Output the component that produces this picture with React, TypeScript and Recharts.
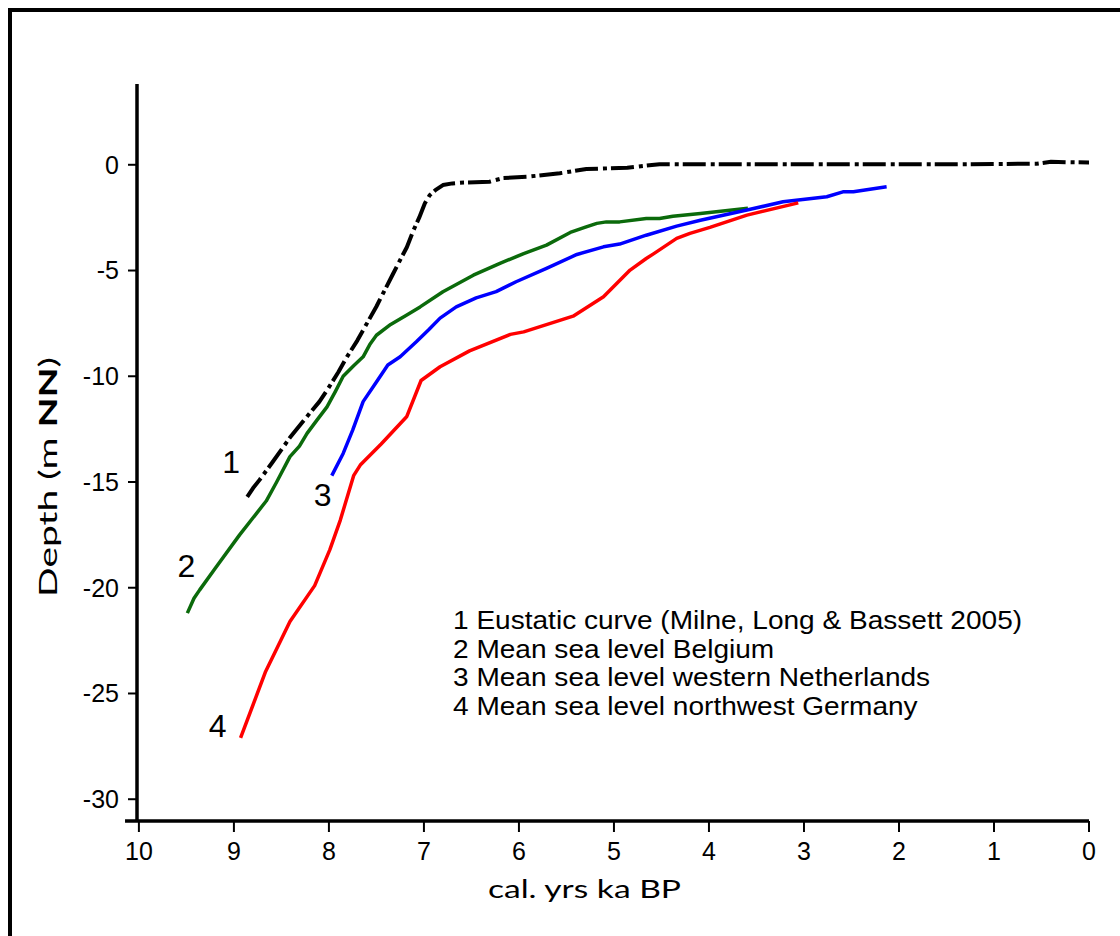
import React from 'react';
import { LineChart, Line, XAxis, YAxis, Legend, ReferenceLine } from 'recharts';

// ---- data ----
const xTicks = [0, 1, 2, 3, 4, 5, 6, 7, 8, 9, 10];
const yTicks = [-30, -25, -20, -15, -10, -5, 0];
const curveNumbers = ['1', '2', '3', '4'];
const seriesNames = [
  '1 Eustatic curve (Milne, Long & Bassett 2005)',
  '2 Mean sea level Belgium',
  '3 Mean sea level western Netherlands',
  '4 Mean sea level northwest Germany',
];

// [age ka BP, depth m NN]
const eustatic = [
  [8.86, -15.7], [8.8, -15.3], [8.73, -14.9], [8.6, -14.1], [8.41, -12.9], [8.23, -11.9],
  [8.1, -11.2], [8.02, -10.66], [7.9, -9.8], [7.81, -9.08], [7.7, -8.3], [7.6, -7.5],
  [7.5, -6.7], [7.43, -6.08], [7.33, -5.2], [7.25, -4.5], [7.18, -3.9], [7.11, -3.1],
  [7.05, -2.5], [6.99, -1.82], [6.94, -1.44], [6.88, -1.2], [6.8, -0.96], [6.7, -0.88],
  [6.62, -0.85], [6.31, -0.8], [6.17, -0.63], [5.92, -0.57], [5.57, -0.4], [5.29, -0.2],
  [4.86, -0.14], [4.52, 0.03], [3.0, 0.02], [1.5, 0.02], [0.55, 0.05], [0.4, 0.14],
  [0.2, 0.12], [0.0, 0.11],
];
const belgium = [
  [9.49, -21.2], [9.42, -20.5], [9.36, -20.1], [9.2, -19.1], [8.94, -17.5], [8.66, -15.9],
  [8.55, -15.0], [8.41, -13.8], [8.31, -13.3], [8.23, -12.7], [8.13, -12.1], [8.02, -11.45],
  [7.93, -10.7], [7.85, -10.0], [7.74, -9.5], [7.64, -9.08], [7.57, -8.5], [7.5, -8.06],
  [7.35, -7.55], [7.18, -7.1], [7.04, -6.72], [6.8, -6.0], [6.48, -5.22], [6.2, -4.66],
  [5.95, -4.2], [5.71, -3.8], [5.46, -3.2], [5.3, -2.95], [5.18, -2.77], [5.08, -2.7],
  [4.94, -2.7], [4.66, -2.54], [4.52, -2.54], [4.38, -2.43], [4.09, -2.3], [3.59, -2.06],
];
const netherlands = [
  [7.97, -14.7], [7.85, -13.65], [7.75, -12.55], [7.64, -11.2], [7.5, -10.27], [7.38, -9.47],
  [7.25, -9.08], [7.08, -8.37], [6.95, -7.8], [6.83, -7.25], [6.66, -6.72], [6.45, -6.29],
  [6.24, -6.0], [6.03, -5.53], [5.71, -4.9], [5.39, -4.24], [5.11, -3.88], [4.94, -3.75],
  [4.66, -3.33], [4.34, -2.9], [4.09, -2.62], [3.6, -2.14], [3.22, -1.75], [2.76, -1.51],
  [2.59, -1.28], [2.48, -1.28], [2.13, -1.04],
];
const germany = [
  [8.93, -27.1], [8.67, -24.0], [8.41, -21.6], [8.15, -19.9], [7.99, -18.2], [7.88, -16.8],
  [7.74, -14.7], [7.67, -14.2], [7.45, -13.2], [7.18, -11.9], [7.03, -10.2], [6.83, -9.55],
  [6.52, -8.8], [6.09, -8.02], [5.95, -7.9], [5.43, -7.16], [5.11, -6.24], [4.83, -4.98],
  [4.66, -4.43], [4.58, -4.2], [4.34, -3.48], [4.2, -3.24], [3.99, -2.96], [3.6, -2.38],
  [3.06, -1.8],
];

const xDomain = [0, 10.02];
const yDomain = [-31.03, 3.82];
const xAxisStart = 10.146;

const toPoints = (arr: number[][]) => arr.map(([x, y]) => ({ x, y }));

// ---- styles ----
const seriesStyles = [
  { color: '#000000', dash: '23 5 4 4', width: 4, ldx: -16, ldy: -24 },
  { color: '#0b6a0b', dash: undefined, width: 3.5, ldx: -1, ldy: -36 },
  { color: '#0000ff', dash: undefined, width: 3.5, ldx: -9, ldy: 30 },
  { color: '#ff0000', dash: undefined, width: 3.5, ldx: -23, ldy: -1 },
];
const seriesData = [eustatic, belgium, netherlands, germany];

const ARIAL = '"Liberation Sans", Arial, sans-serif';
const TITLE_FONT = 'Lato, "Open Sans", sans-serif';

const makeCurveLabel = (text: string, dx: number, dy: number) => (props: any) => {
  if (props.index !== 0) return <g />;
  const px = props.x ?? props.viewBox?.x;
  const py = props.y ?? props.viewBox?.y;
  return (
    <text x={px + dx} y={py + dy} textAnchor="middle" fontSize={32} fontFamily={ARIAL} fill="#000">
      {text}
    </text>
  );
};

const YTitle = () => (
  <text
    x={57}
    y={477}
    transform="rotate(-90, 57, 477)"
    textAnchor="middle"
    fontSize={25}
    fontFamily={TITLE_FONT}
    fill="#000"
    textLength={240}
    lengthAdjust="spacingAndGlyphs"
  >
    Depth (m <tspan fontWeight="bold">NN</tspan>)
  </text>
);

const XTitle = () => (
  <text
    x={584.5}
    y={898}
    textAnchor="middle"
    fontSize={25}
    fontFamily={TITLE_FONT}
    fill="#000"
    textLength={193}
    lengthAdjust="spacingAndGlyphs"
  >
    cal. yrs ka BP
  </text>
);

const LegendContent = (props: any) => {
  const items = (props.payload || []).slice().sort((a: any, b: any) => String(a.value).localeCompare(String(b.value)));
  return (
    <div
      style={{
        fontFamily: ARIAL,
        fontSize: 25.5,
        lineHeight: '28.5px',
        color: '#000',
        whiteSpace: 'nowrap',
        transform: 'scaleX(1.1)',
        transformOrigin: 'left top',
      }}
    >
      {items.map((p: any) => (
        <div key={p.value}>{p.value}</div>
      ))}
    </div>
  );
};

export default function App() {
  return (
    <div style={{ position: 'absolute', left: 0, top: 0, width: 1120, height: 936, background: '#fff', overflow: 'hidden' }}>
      <div
        style={{
          position: 'absolute',
          left: 8,
          top: 8,
          width: 1112,
          height: 928,
          borderLeft: '4px solid #000',
          borderTop: '4px solid #000',
          boxSizing: 'border-box',
        }}
      />
      <div style={{ position: 'absolute', left: 0, top: 0 }}>
        <LineChart width={1120} height={936} margin={{ top: 84, right: 31, bottom: 55, left: 0 }}>
          <XAxis
            type="number"
            dataKey="x"
            domain={xDomain}
            ticks={xTicks}
            reversed
            allowDataOverflow
            height={60}
            axisLine={false}
            tickSize={11}
            tickMargin={10}
            tickLine={{ stroke: '#000', strokeWidth: 2 }}
            tick={{ fill: '#000', fontSize: 25, fontFamily: ARIAL }}
            label={<XTitle />}
          />
          <YAxis
            type="number"
            dataKey="y"
            domain={yDomain}
            ticks={yTicks}
            allowDataOverflow
            width={137}
            axisLine={{ stroke: '#000', strokeWidth: 3.5 }}
            tickSize={9}
            tickMargin={9}
            tickLine={{ stroke: '#000', strokeWidth: 2 }}
            tick={{ fill: '#000', fontSize: 25, fontFamily: ARIAL }}
            label={<YTitle />}
          />
          <ReferenceLine
            segment={[
              { x: xAxisStart, y: yDomain[0] },
              { x: 0, y: yDomain[0] },
            ]}
            stroke="#000"
            strokeWidth={3.5}
            ifOverflow="visible"
          />
          {seriesData.map((d, i) => (
            <Line
              key={seriesNames[i]}
              data={toPoints(d)}
              dataKey="y"
              name={seriesNames[i]}
              type="linear"
              stroke={seriesStyles[i].color}
              strokeWidth={seriesStyles[i].width}
              strokeDasharray={seriesStyles[i].dash}
              strokeLinejoin="round"
              dot={false}
              activeDot={false}
              isAnimationActive={false}
              label={makeCurveLabel(curveNumbers[i], seriesStyles[i].ldx, seriesStyles[i].ldy)}
            />
          ))}
          <Legend
            layout="horizontal"
            verticalAlign="middle"
            align="center"
            content={<LegendContent />}
            wrapperStyle={{ left: 453, top: 606, width: 'auto', height: 'auto' }}
          />
        </LineChart>
      </div>
    </div>
  );
}
